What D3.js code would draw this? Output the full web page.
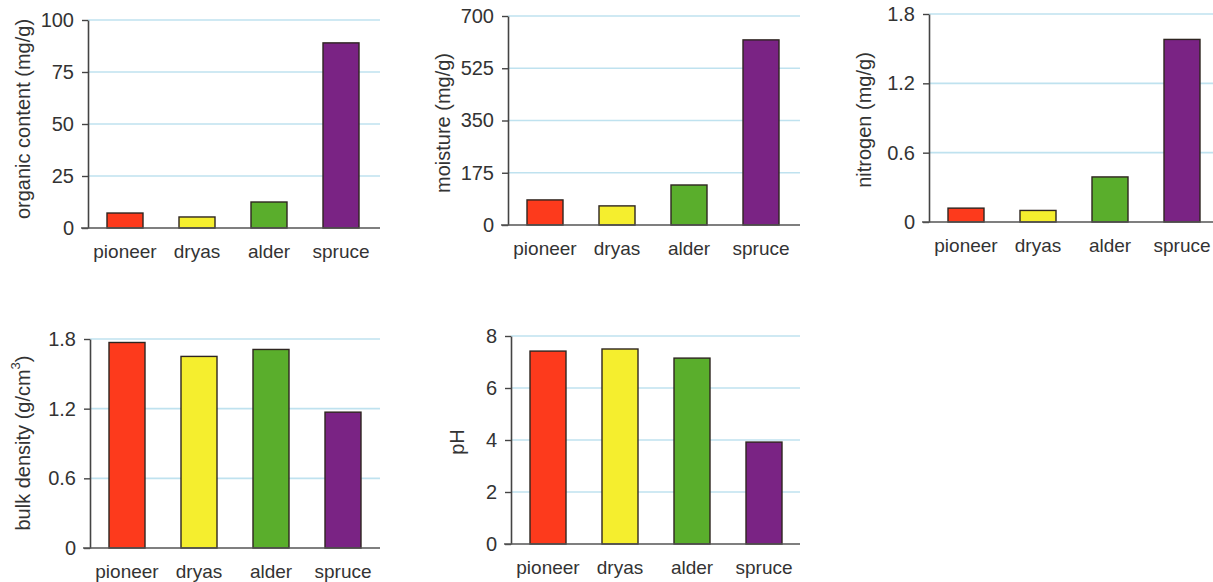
<!DOCTYPE html>
<html>
<head>
<meta charset="utf-8">
<script src="https://cdn.jsdelivr.net/npm/d3@7"></script>
<style>
  html, body { margin: 0; padding: 0; background: #fff; }
  svg { display: block; font-family: "Liberation Sans", Arial, sans-serif; }
</style>
</head>
<body>
<svg id="chart" width="1213" height="582"></svg>
<script>
// ---- data ----
const categories = ["pioneer", "dryas", "alder", "spruce"];
const barColors = ["#fd3a1c", "#f5ee2e", "#5aae2c", "#7a2384"];

const organicContent = [7.2, 5.3, 12.5, 89];
const moisture = [84, 64, 134, 620];
const nitrogen = [0.12, 0.10, 0.39, 1.58];
const bulkDensity = [1.77, 1.65, 1.71, 1.17];
const pH = [7.42, 7.5, 7.15, 3.92];

const organicTicks = [0, 25, 50, 75, 100];
const moistureTicks = [0, 175, 350, 525, 700];
const nitrogenTicks = [0, 0.6, 1.2, 1.8];
const densityTicks = [0, 0.6, 1.2, 1.8];
const pHTicks = [0, 2, 4, 6, 8];

// ---- layout ----
const panels = [
  { values: organicContent, ticks: organicTicks, fmt: d => d, label: ["organic content (mg/g)"],
    ax: 88, top: 20, zero: 228, right: 380, labelX: 23, labelY: 119 },
  { values: moisture, ticks: moistureTicks, fmt: d => d, label: ["moisture (mg/g)"],
    ax: 508, top: 16, zero: 225, right: 800, labelX: 443, labelY: 123 },
  { values: nitrogen, ticks: nitrogenTicks, fmt: d => d === 0 ? "0" : d3.format(".1f")(d), label: ["nitrogen (mg/g)"],
    ax: 929, top: 14, zero: 222, right: 1213, labelX: 864, labelY: 120 },
  { values: bulkDensity, ticks: densityTicks, fmt: d => d === 0 ? "0" : d3.format(".1f")(d), label: ["bulk density (g/cm", "3", ")"],
    ax: 90, top: 339, zero: 548, right: 380, labelX: 23, labelY: 443 },
  { values: pH, ticks: pHTicks, fmt: d => d, label: ["pH"],
    ax: 511, top: 336, zero: 544, right: 800, labelX: 457, labelY: 442 }
];

const svg = d3.select("#chart");

panels.forEach(p => {
  const g = svg.append("g");
  const y = d3.scaleLinear()
    .domain([0, d3.max(p.ticks)])
    .range([p.zero, p.top]);
  const x = d3.scaleBand()
    .domain(categories)
    .range([p.ax + 1, p.ax + 289])
    .paddingInner(0.5)
    .paddingOuter(0.25);

  // gridlines
  g.selectAll("line.grid")
    .data(p.ticks.filter(t => t !== 0))
    .join("line")
    .attr("class", "grid")
    .attr("x1", p.ax).attr("x2", p.right)
    .attr("y1", d => y(d)).attr("y2", d => y(d))
    .attr("stroke", "#bfe2ef")
    .attr("stroke-width", 1.6);

  // bars
  g.selectAll("rect.bar")
    .data(p.values)
    .join("rect")
    .attr("class", "bar")
    .attr("x", (d, i) => x(categories[i]))
    .attr("width", x.bandwidth())
    .attr("y", d => y(d))
    .attr("height", d => y(0) - y(d))
    .attr("fill", (d, i) => barColors[i])
    .attr("stroke", "#2e2520")
    .attr("stroke-width", 1.4);

  // y axis
  const yAxis = d3.axisLeft(y)
    .tickValues(p.ticks)
    .tickFormat(p.fmt)
    .tickSize(6)
    .tickPadding(8)
    .tickSizeOuter(0);
  const ya = g.append("g")
    .attr("transform", `translate(${p.ax},0)`)
    .call(yAxis);
  ya.select(".domain").attr("stroke", "#444").attr("stroke-width", 1.6);
  ya.selectAll(".tick line").attr("stroke", "#444").attr("stroke-width", 1.4);
  ya.selectAll(".tick text")
    .attr("fill", "#333")
    .style("font-size", "20px")
    .style("font-family", "'Liberation Sans', Arial, sans-serif");

  // baseline
  g.append("line")
    .attr("x1", p.ax - 7).attr("x2", p.right)
    .attr("y1", y(0)).attr("y2", y(0))
    .attr("stroke", "#555")
    .attr("stroke-width", 1.6);

  // category labels
  g.selectAll("text.cat")
    .data(categories)
    .join("text")
    .attr("class", "cat")
    .attr("x", d => x(d) + x.bandwidth() / 2)
    .attr("y", y(0) + 30)
    .attr("text-anchor", "middle")
    .attr("fill", "#333")
    .style("font-size", "19px")
    .text(d => d);

  // y label
  const lbl = g.append("text")
    .attr("transform", `translate(${p.labelX},${p.labelY}) rotate(-90)`)
    .attr("text-anchor", "middle")
    .attr("dominant-baseline", "central")
    .attr("fill", "#333")
    .style("font-size", "20px");
  lbl.append("tspan").text(p.label[0]);
  if (p.label.length > 1) {
    lbl.append("tspan").attr("baseline-shift", "super").style("font-size", "13px").text(p.label[1]);
    lbl.append("tspan").text(p.label[2]);
  }
});
</script>
</body>
</html>
